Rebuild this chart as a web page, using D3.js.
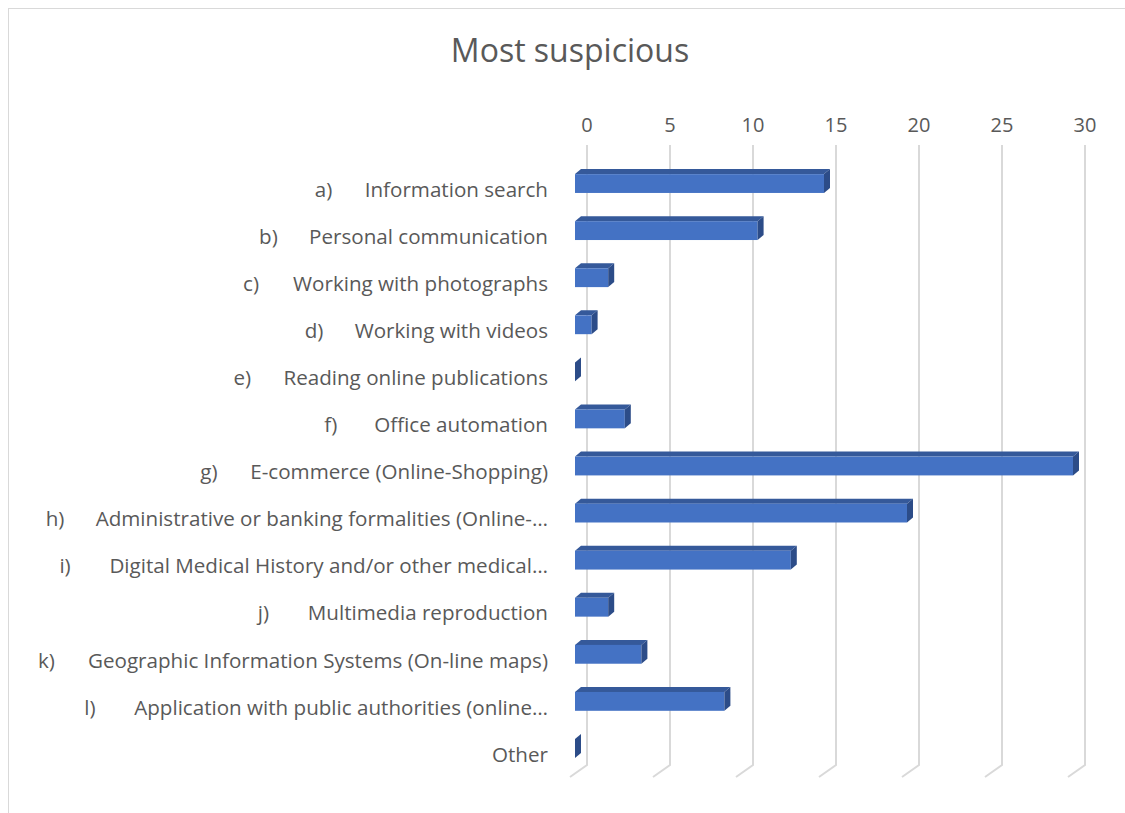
<!DOCTYPE html>
<html><head><meta charset="utf-8">
<script src="https://cdn.jsdelivr.net/npm/d3@7"></script>
<style>body{margin:0;background:#fff}svg{display:block}text{font-family:"Open Sans",Lato,sans-serif;fill:#595959}</style>
</head><body><svg id="c" width="1125" height="813"></svg>
<script>
const letters = ["a)","b)","c)","d)","e)","f)","g)","h)","i)","j)","k)","l)",""];
const names = ["Information search","Personal communication","Working with photographs","Working with videos","Reading online publications","Office automation","E-commerce (Online-Shopping)","Administrative or banking formalities (Online-…","Digital Medical History and/or other medical…","Multimedia reproduction","Geographic Information Systems (On-line maps)","Application with public authorities (online…","Other"];
const values = [15,11,2,1,0,3,30,20,13,2,4,9,0];
const ticks = [0,5,10,15,20,25,30];
const title = "Most suspicious";

const svg = d3.select("#c");
svg.append("rect").attr("x",8.5).attr("y",8.5).attr("width",1300).attr("height",1000)
  .attr("fill","none").attr("stroke","#d9d9d9").attr("stroke-width",1);

const dx = 12;
const x = d3.scaleLinear().domain([0,30]).range([575,1073]);
const idx = d3.range(values.length);
const y = d3.scaleBand().domain(idx).range([160,772]).paddingInner(0.6).paddingOuter(0.3);

svg.append("text").attr("x",570).attr("y",62).attr("text-anchor","middle")
  .style("font-size","32px").text(title);

// gridlines
const gTop = 145, gBot = 765;
ticks.forEach(t => {
  const gx = x(t) + dx;
  svg.append("path").attr("d",`M${gx},${gTop}L${gx},${gBot}L${gx-17},${gBot+12}`)
    .attr("fill","none").attr("stroke","#d9d9d9").attr("stroke-width",2);
  svg.append("text").attr("x",gx).attr("y",132).attr("text-anchor","middle")
    .style("font-size","20px").text(t);
});

// bars
const bd = 6, bdy = 5;
const fs = "20.6px";
idx.forEach(i => {
  const x0 = x(0), x1 = x(values[i]);
  const yt = y(i), h = y.bandwidth();
  const g = svg.append("g");
  if (x1 > x0) {
    g.append("path").attr("d",`M${x0},${yt}L${x0+bd},${yt-bdy}L${x1+bd},${yt-bdy}L${x1},${yt}Z`).attr("fill","#35599a");
    g.append("rect").attr("x",x0).attr("y",yt).attr("width",x1-x0).attr("height",h).attr("fill","#4472c4");
  }
  g.append("path").attr("d",`M${x1},${yt}L${x1+bd},${yt-bdy}L${x1+bd},${yt+h-bdy}L${x1},${yt+h}Z`).attr("fill","#2c4c88");
  const cy = yt + h/2 + 6;
  const t = svg.append("text").attr("x",548).attr("y",cy).attr("dy","0.35em").attr("text-anchor","end")
    .style("font-size",fs).text(names[i]);
  if (letters[i]) {
    const w = t.node().getComputedTextLength();
    svg.append("text").attr("x",548 - w - 50).attr("y",cy).attr("dy","0.35em")
      .style("font-size",fs).text(letters[i]);
  }
});
</script></body></html>
